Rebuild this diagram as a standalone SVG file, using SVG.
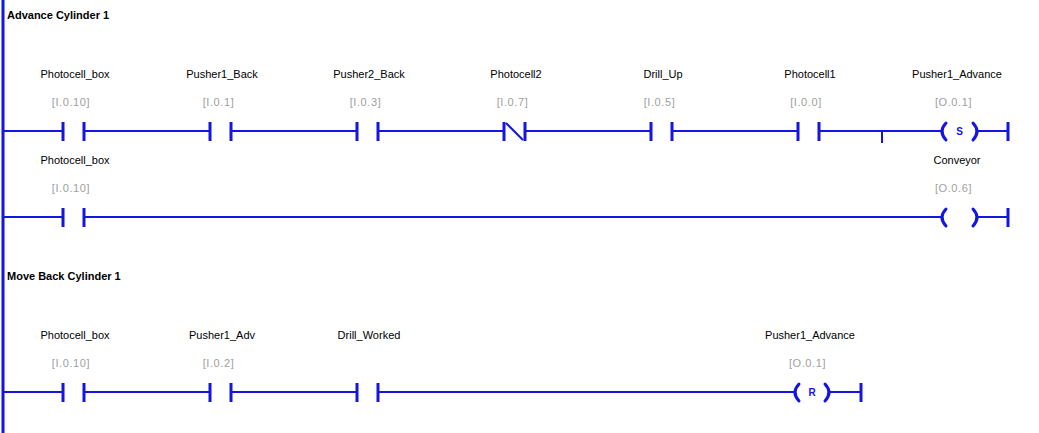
<svg xmlns="http://www.w3.org/2000/svg" width="1039" height="433" viewBox="0 0 1039 433">
<style>
.w{stroke:#1515e0;stroke-width:2;fill:none}
.b{stroke:#1515e0;stroke-width:3;fill:none}
.p{stroke:#1515e0;stroke-width:3;fill:none;stroke-linecap:round}
.h{font-family:"Liberation Sans",Arial,sans-serif;font-size:11px;font-weight:bold;fill:#000}
.l{font-family:"Liberation Sans",Arial,sans-serif;font-size:11px;fill:#000;text-anchor:middle}
.a{font-family:"Liberation Sans",Arial,sans-serif;font-size:11px;fill:#a0a0a0;text-anchor:middle;letter-spacing:0.6px}
.c{font-family:"Liberation Sans",Arial,sans-serif;font-size:10px;font-weight:bold;fill:#1515e0;text-anchor:middle}
</style>
<rect width="1039" height="433" fill="#fff"/>
<g id="rail"><line x1="3" y1="0" x2="3" y2="433" class="b"/></g>
<g id="headings">
<text x="7" y="19" class="h">Advance Cylinder 1</text>
<text x="7" y="280" class="h">Move Back Cylinder 1</text>
</g>
<g id="connectors">
<path class="w" d="M3 131H63M84 131H210M231 131H357M378 131H504M525 131H651M672 131H798M819 131H941M977 131H1007"/>
<path class="w" d="M882 131V143"/>
<path class="w" d="M3 217H63M84 217H941M977 217H1007"/>
<path class="w" d="M3 392H63M84 392H210M231 392H357M378 392H794M829 392H860"/>
</g>
<g id="c1"><path class="b" d="M63 122V141M84 122V141"/><text x="75" y="78" class="l">Photocell_box</text><text x="71" y="106" class="a">[I.0.10]</text></g>
<g id="c2"><path class="b" d="M210 122V141M231 122V141"/><text x="222" y="78" class="l">Pusher1_Back</text><text x="218.5" y="106" class="a">[I.0.1]</text></g>
<g id="c3"><path class="b" d="M357 122V141M378 122V141"/><text x="369" y="78" class="l">Pusher2_Back</text><text x="365.5" y="106" class="a">[I.0.3]</text></g>
<g id="c4"><path class="b" d="M504 122V141M525 122V141"/><path class="w" d="M506 123L523 140"/><text x="516" y="78" class="l">Photocell2</text><text x="512.5" y="106" class="a">[I.0.7]</text></g>
<g id="c5"><path class="b" d="M651 122V141M672 122V141"/><text x="663" y="78" class="l">Drill_Up</text><text x="659.5" y="106" class="a">[I.0.5]</text></g>
<g id="c6"><path class="b" d="M798 122V141M819 122V141"/><text x="810" y="78" class="l">Photocell1</text><text x="806" y="106" class="a">[I.0.0]</text></g>
<g id="coil1"><path class="p" d="M946 123Q938 131.5 946 140M973 123Q981 131.5 973 140"/><text x="959.5" y="135" class="c">S</text><path class="b" d="M1008 122V141"/><text x="957" y="78" class="l">Pusher1_Advance</text><text x="953.5" y="106" class="a">[O.0.1]</text></g>
<g id="c7"><path class="b" d="M63 208V227M84 208V227"/><text x="75" y="164" class="l">Photocell_box</text><text x="71" y="192" class="a">[I.0.10]</text></g>
<g id="coil2"><path class="p" d="M946 209Q938 217.5 946 226M973 209Q981 217.5 973 226"/><path class="b" d="M1008 208V227"/><text x="957" y="164" class="l">Conveyor</text><text x="953.5" y="192" class="a">[O.0.6]</text></g>
<g id="c8"><path class="b" d="M63 383V402M84 383V402"/><text x="75" y="339" class="l">Photocell_box</text><text x="71" y="367" class="a">[I.0.10]</text></g>
<g id="c9"><path class="b" d="M210 383V402M231 383V402"/><text x="222" y="339" class="l">Pusher1_Adv</text><text x="218.5" y="367" class="a">[I.0.2]</text></g>
<g id="c10"><path class="b" d="M357 383V402M378 383V402"/><text x="369" y="339" class="l">Drill_Worked</text></g>
<g id="coil3"><path class="p" d="M799 384Q791 392.5 799 401M825 384Q833 392.5 825 401"/><text x="812" y="396" class="c">R</text><path class="b" d="M861 383V402"/><text x="810" y="339" class="l">Pusher1_Advance</text><text x="807.5" y="367" class="a">[O.0.1]</text></g>
</svg>
